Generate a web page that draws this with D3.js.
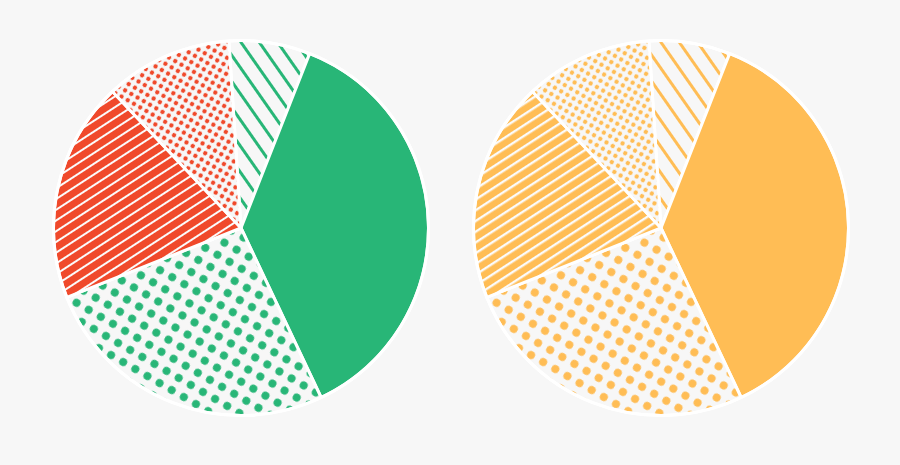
<!DOCTYPE html>
<html><head><meta charset="utf-8">
<script src="https://cdn.jsdelivr.net/npm/d3@7"></script>
<style>html,body{margin:0;padding:0;background:#f7f7f7;}svg{display:block;}</style>
</head><body>
<svg id="chart" width="900" height="465"></svg>
<script>
const categories = ["A", "B", "C", "D", "E"];
const values = [7, 37, 26, 19, 11];
const leftFills = ["stripeG", "solidG", "dotG", "stripeR", "dotR"];
const rightFills = ["stripeY", "solidY", "dotYbig", "stripeY2", "dotYsmall"];

const W = 900, H = 465;
const bg = "#f7f7f7";
const green = "#28b677", red = "#f0492b", yellow = "#ffbd55";
const svg = d3.select("#chart");
svg.append("rect").attr("width", W).attr("height", H).attr("fill", bg);
const defs = svg.append("defs");

function thinStripe(id, color, period, w, angle) {
  const p = defs.append("pattern").attr("id", id).attr("patternUnits", "userSpaceOnUse")
    .attr("width", period).attr("height", period).attr("patternTransform", `rotate(${angle})`);
  p.append("rect").attr("width", period).attr("height", period).attr("fill", bg);
  p.append("rect").attr("x", 0).attr("width", w).attr("height", period).attr("fill", color);
}
function thickStripe(id, color, period, gap, angle) {
  const p = defs.append("pattern").attr("id", id).attr("patternUnits", "userSpaceOnUse")
    .attr("width", period).attr("height", period).attr("patternTransform", `rotate(${angle})`);
  p.append("rect").attr("width", period).attr("height", period).attr("fill", color);
  p.append("rect").attr("x", 0).attr("width", gap).attr("height", period).attr("fill", "#fbfbfb");
}
function dots(id, color, period, r, angle) {
  const p = defs.append("pattern").attr("id", id).attr("patternUnits", "userSpaceOnUse")
    .attr("width", period).attr("height", period).attr("patternTransform", `rotate(${angle})`);
  p.append("rect").attr("width", period).attr("height", period).attr("fill", bg);
  p.append("circle").attr("cx", period / 2).attr("cy", period / 2).attr("r", r).attr("fill", color);
}
thinStripe("stripeG", green, 15, 3, -35);
thinStripe("stripeY", yellow, 15, 3, -35);
thickStripe("stripeR", red, 9, 2, 57);
thickStripe("stripeY2", yellow, 9, 2.4, 57);
dots("dotG", green, 14, 4, 30);
dots("dotYbig", yellow, 14, 4, 30);
dots("dotR", red, 7.2, 2.2, 30);
dots("dotYsmall", yellow, 7.2, 2.2, 30);

const r = 187.5;
const pie = d3.pie().sort(null).startAngle(-3.7 * Math.PI / 180).endAngle(2 * Math.PI - 3.7 * Math.PI / 180);
const arcs = pie(values);
const arc = d3.arc().innerRadius(0).outerRadius(r);

function drawPie(cx, cy, fills) {
  const g = svg.append("g").attr("transform", `translate(${cx},${cy})`);
  g.selectAll("path").data(arcs).join("path")
    .attr("d", arc)
    .attr("fill", (d, i) => fills[i].startsWith("solid") ? (fills[i] === "solidG" ? green : yellow) : `url(#${fills[i]})`)
    .attr("stroke", "#ffffff").attr("stroke-width", 3).attr("stroke-linejoin", "round");
  g.append("circle").attr("r", r).attr("fill", "none").attr("stroke", "#ffffff").attr("stroke-width", 3);
}
drawPie(241, 228, leftFills);
drawPie(661, 228, rightFills);
</script>
</body></html>
